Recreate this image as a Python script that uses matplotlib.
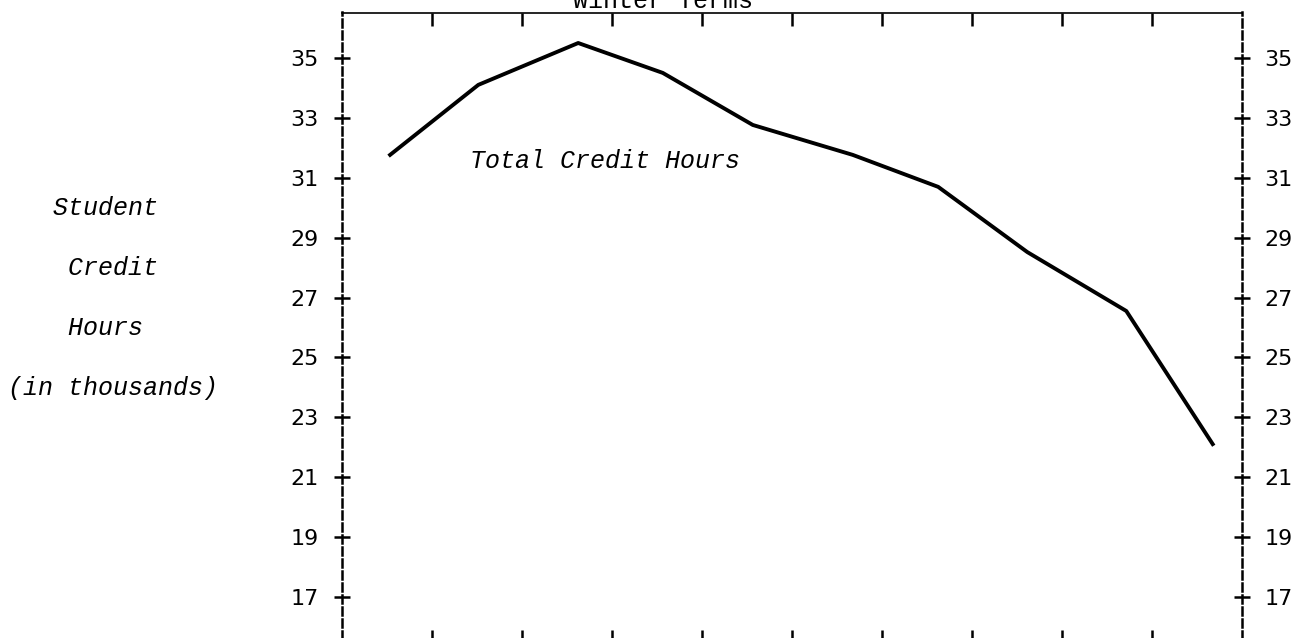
import matplotlib
matplotlib.use("Agg")
import matplotlib.pyplot as plt

# Winter terms: position along the x axis (tick units) and total credit hours (thousands)
term_pos = [0.54, 1.52, 2.63, 3.57, 4.57, 5.68, 6.63, 7.62, 8.72, 9.68]
credit_hours = [31.77, 34.11, 35.51, 34.51, 32.77, 31.77, 30.70, 28.52, 26.55, 22.10]

y_ticks = [17, 19, 21, 23, 25, 27, 29, 31, 33, 35]
x_ticks = [1, 2, 3, 4, 5, 6, 7, 8, 9]
ylabel_lines = ["   Student", "    Credit", "    Hours", "(in thousands)"]

MONO = "Liberation Mono"
W, H = 1312, 638

fig = plt.figure(figsize=(W / 100, H / 100), dpi=100)
ax = fig.add_axes([341.5 / W, 1 - 643 / H, 900 / W, (643 - 12.5) / H])

ax.plot(term_pos, credit_hours, color="black", lw=2.8, solid_joinstyle="round")

ax.set_xlim(0, 10)
ax.set_ylim(15.45, 36.53)

for side in ("left", "right"):
    ax.spines[side].set_linestyle((0, (3.2, 1.6)))
    ax.spines[side].set_linewidth(1.8)
for side in ("top", "bottom"):
    ax.spines[side].set_linewidth(1.2)

ax.set_yticks(y_ticks)
ax.set_xticks(x_ticks)
ax.set_xticklabels([])
ax.tick_params(axis="y", which="both", direction="inout", length=11, width=1.8,
               left=True, right=True, labelleft=True, labelright=True,
               labelsize=16, pad=11)
ax.tick_params(axis="x", direction="in", length=9.5, width=1.8,
               top=True, bottom=True, labeltop=False, labelbottom=False)
for lab in ax.get_yticklabels():
    lab.set_family("DejaVu Sans")

ax.text(1.43, 31.33, "Total Credit Hours", family=MONO, style="italic",
        fontsize=18, va="baseline", ha="left")

fig.text(573 / W, 1 - 8 / H, "Winter Terms", family=MONO, fontsize=18,
         va="baseline", ha="left")

for i, line in enumerate(ylabel_lines):
    fig.text(8 / W, 1 - (208 + 60 * i) / H, line, family=MONO, style="italic",
             fontsize=18, va="center", ha="left")

fig.savefig("out.png", dpi=100)
